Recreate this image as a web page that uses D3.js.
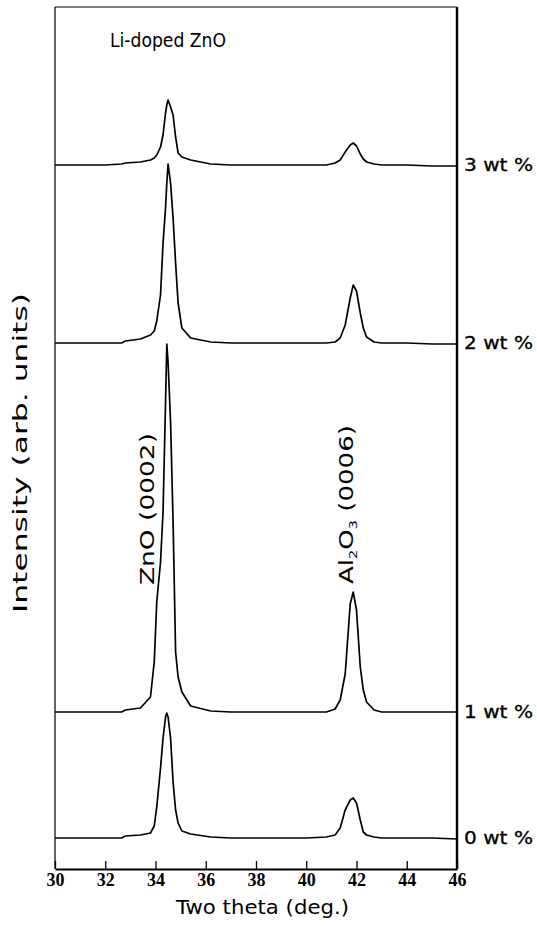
<!DOCTYPE html>
<html>
<head>
<meta charset="utf-8">
<script src="https://cdn.jsdelivr.net/npm/d3@7"></script>
<style>
  body { margin: 0; background: #fff; }
  svg { display: block; }
</style>
</head>
<body>
<script>
// Two theta sample positions (deg.)
var twoTheta = [30, 31, 32, 32.65, 32.8, 33.4, 33.8, 33.95, 34.05, 34.2,
                34.3, 34.4, 34.45, 34.5, 34.6, 34.7, 34.8, 34.9, 35.05, 35.4,
                36.2, 37, 38, 39, 40, 40.8, 41.15, 41.35, 41.55, 41.75,
                41.87, 42.0, 42.15, 42.27, 42.4, 42.7, 43.0, 44, 45, 46];

// Intensity above each pattern's own baseline (arb. units)
var wt0 = [0, 0, 0, 0, 2, 3, 5, 12, 31, 70,
           100, 121, 125, 121, 100, 56, 28, 15, 7, 4,
           1, 0, 0, 0, 0, 1, 3, 10, 28, 38,
           40, 35, 18, 6, 3, 1, 0, 0, 0, -1];
var wt1 = [0, 0, 0, 0, 2, 4, 15, 50, 110, 150,
           200, 310, 368, 350, 290, 190, 60, 35, 20, 6,
           1, 0, 0, 0, 0, 0, 3, 12, 38, 108,
           120, 102, 45, 22, 10, 2, 0, 0, 0, 0];
var wt2 = [0, 0, 0, 0, 2, 4, 8, 12, 22, 48,
           100, 135, 160, 179, 160, 125, 80, 40, 15, 5,
           1, 0, 0, 0, 0, 0, 1, 5, 18, 45,
           58, 52, 30, 15, 6, 1, 0, 0, -1, -1];
var wt3 = [0, 0, 0, 1, 2, 3, 5, 7, 10, 18,
           30, 52, 60, 65, 58, 50, 28, 12, 8, 5,
           1, 0, 0, 0, 0, 0, 2, 5, 13, 20,
           22, 19, 11, 6, 3, 1, 0, 0, -1, -1];

var patterns = [wt0, wt1, wt2, wt3];
var sampleLabels = ["0 wt %", "1 wt %", "2 wt %", "3 wt %"];
// vertical offset of each pattern's baseline (arb. units)
var offsets = [31, 157, 526, 704];

var tickValues = [30, 32, 34, 36, 38, 40, 42, 44, 46];

var width = 537,
    height = 927;

var svg = d3.select("body")
    .append("svg")
    .attr("width", width)
    .attr("height", height);

var x = d3.scaleLinear().domain([30, 46]).range([55, 457]);
var y = d3.scaleLinear().domain([0, 862]).range([869, 7]);

// frame
svg.append("line")
    .attr("x1", x(30)).attr("x2", x(46))
    .attr("y1", y(862)).attr("y2", y(862))
    .attr("stroke", "#000").attr("stroke-width", 1);
svg.append("line")
    .attr("x1", x(30)).attr("x2", x(30))
    .attr("y1", y(862)).attr("y2", y(0))
    .attr("stroke", "#000").attr("stroke-width", 1.2);
svg.append("line")
    .attr("x1", x(46)).attr("x2", x(46))
    .attr("y1", y(862)).attr("y2", y(0))
    .attr("stroke", "#000").attr("stroke-width", 2.4);

// bottom axis, ticks pointing inward
var xAxis = svg.append("g")
    .attr("transform", "translate(0," + y(0) + ")")
    .call(d3.axisBottom(x)
        .tickValues(tickValues)
        .tickSize(-8)
        .tickSizeOuter(0)
        .tickPadding(4));

xAxis.select(".domain").attr("stroke-width", 1.8);
xAxis.selectAll(".tick line").attr("stroke-width", 1.3);
xAxis.selectAll(".tick text")
    .attr("font-family", "Liberation Serif")
    .attr("font-weight", "bold")
    .attr("font-size", 18)
    .attr("fill", "#000");

// XRD patterns
var line = d3.line()
    .x(function(d, i) { return x(twoTheta[i]); });

patterns.forEach(function(p, k) {
    svg.append("path")
        .datum(p)
        .attr("fill", "none")
        .attr("stroke", "#000")
        .attr("stroke-width", 1.7)
        .attr("stroke-linejoin", "round")
        .attr("d", line.y(function(d) { return y(offsets[k] + d); }));

    svg.append("text")
        .attr("x", 464)
        .attr("y", y(offsets[k]))
        .attr("dy", "0.36em")
        .attr("font-family", "DejaVu Sans")
        .attr("font-size", 17)
        .attr("stroke", "#000")
        .attr("stroke-width", 0.3)
        .attr("textLength", 69)
        .attr("lengthAdjust", "spacingAndGlyphs")
        .text(sampleLabels[k]);
});

// title
svg.append("text")
    .attr("x", 110)
    .attr("y", 47)
    .attr("font-family", "DejaVu Sans")
    .attr("font-size", 20)
    .attr("textLength", 116)
    .attr("lengthAdjust", "spacingAndGlyphs")
    .text("Li-doped ZnO");

// axis titles
svg.append("text")
    .attr("x", 176)
    .attr("y", 914)
    .attr("font-family", "DejaVu Sans")
    .attr("font-size", 19)
    .attr("textLength", 173)
    .attr("lengthAdjust", "spacingAndGlyphs")
    .text("Two theta (deg.)");

svg.append("text")
    .attr("transform", "translate(27,613) rotate(-90)")
    .attr("font-family", "DejaVu Sans")
    .attr("font-size", 20)
    .attr("textLength", 320)
    .attr("lengthAdjust", "spacingAndGlyphs")
    .text("Intensity (arb. units)");

// peak labels
svg.append("text")
    .attr("transform", "translate(154,585) rotate(-90)")
    .attr("font-family", "DejaVu Sans")
    .attr("font-size", 20)
    .attr("textLength", 152)
    .attr("lengthAdjust", "spacingAndGlyphs")
    .text("ZnO (0002)");

var al = svg.append("text")
    .attr("transform", "translate(353,584) rotate(-90)")
    .attr("font-family", "DejaVu Sans")
    .attr("font-size", 20)
    .attr("textLength", 159)
    .attr("lengthAdjust", "spacingAndGlyphs");
al.append("tspan").text("Al");
al.append("tspan").attr("font-size", 11).attr("dy", 4).text("2");
al.append("tspan").attr("dy", -4).text("O");
al.append("tspan").attr("font-size", 11).attr("dy", 4).text("3");
al.append("tspan").attr("dy", -4).text(" (0006)");
</script>
</body>
</html>
